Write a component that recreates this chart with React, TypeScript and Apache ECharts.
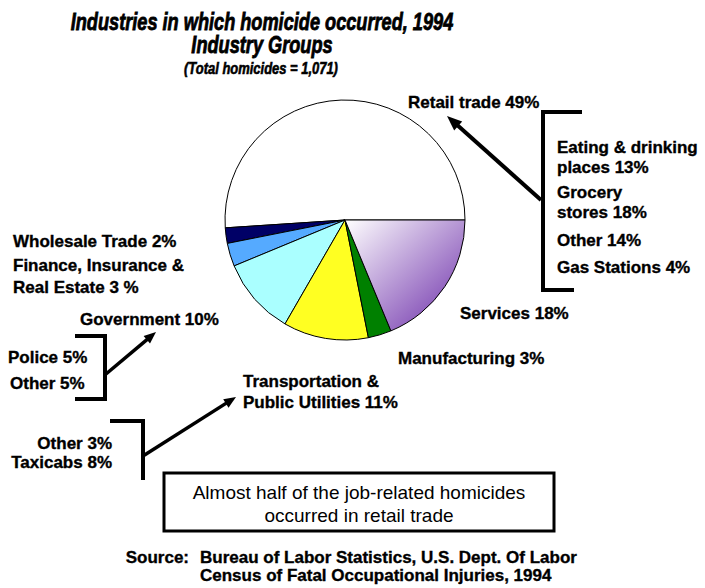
import React, { useEffect, useRef } from "react";
import * as echarts from "echarts";

// ---- Data ----
const industries = [
  "Retail trade",
  "Wholesale Trade",
  "Finance, Insurance & Real Estate",
  "Government",
  "Transportation & Public Utilities",
  "Manufacturing",
  "Services",
];
const shares = [49, 2, 3, 10, 11, 3, 18];
const sliceColors = ["#ffffff", "#000066", "#55aaff", "#aaffff", "#ffff22", "#008000", "services"];

const titleLines = ["Industries in which homicide occurred, 1994", "Industry Groups", "(Total homicides = 1,071)"];
const retailLabel = "Retail trade 49%";
const retailParts = ["Eating & drinking", "places 13%", "Grocery", "stores 18%", "Other 14%", "Gas Stations 4%"];
const leftLabels = ["Wholesale Trade 2%", "Finance, Insurance &", "Real Estate 3 %"];
const governmentLabel = "Government 10%";
const governmentParts = ["Police 5%", "Other 5%"];
const transportLabel = ["Transportation &", "Public Utilities 11%"];
const transportParts = ["Other 3%", "Taxicabs 8%"];
const servicesLabel = "Services 18%";
const manufacturingLabel = "Manufacturing 3%";
const boxLines = ["Almost half of the job-related homicides", "occurred in retail trade"];
const sourceLines = ["Bureau of Labor Statistics, U.S. Dept. Of Labor", "Census of Fatal Occupational Injuries, 1994"];

const BOLD = 'bold 17px "Liberation Sans", Arial, sans-serif';

function txt(text: string, x: number, y: number, align = "left", font = BOLD, extra: any = {}, strokeW = 0.35) {
  const style: any = { text, font, fill: "#000", align, verticalAlign: "middle" };
  if (strokeW > 0) {
    style.stroke = "#000";
    style.lineWidth = strokeW;
  }
  return { type: "text", x, y, ...extra, style };
}

function seg(x1: number, y1: number, x2: number, y2: number, w = 4) {
  return {
    type: "line",
    shape: { x1, y1, x2, y2 },
    style: { stroke: "#000", lineWidth: w, lineCap: "butt" },
  };
}

function arrow(x1: number, y1: number, x2: number, y2: number, w: number, hl: number, hw: number) {
  const dx = x2 - x1;
  const dy = y2 - y1;
  const len = Math.sqrt(dx * dx + dy * dy);
  const ux = dx / len;
  const uy = dy / len;
  const bx = x2 - ux * hl;
  const by = y2 - uy * hl;
  const nx = -uy;
  const ny = ux;
  return [
    seg(x1, y1, bx + ux * 1, by + uy * 1, w),
    {
      type: "polygon",
      shape: {
        points: [
          [x2, y2],
          [bx + (nx * hw) / 2, by + (ny * hw) / 2],
          [bx - (nx * hw) / 2, by - (ny * hw) / 2],
        ],
      },
      style: { fill: "#000" },
    },
  ];
}

export default function App() {
  const ref = useRef<HTMLDivElement>(null);

  useEffect(() => {
    if (!ref.current) return;
    const chart = echarts.init(ref.current, null, { renderer: "svg" });

    const servicesGradient = new echarts.graphic.LinearGradient(0, 0, 1, 1, [
      { offset: 0, color: "#ffffff" },
      { offset: 1, color: "#6a2aa8" },
    ]);

    const data = industries.map((name, i) => ({
      name,
      value: shares[i],
      itemStyle: { color: sliceColors[i] === "services" ? servicesGradient : sliceColors[i] },
    }));

    const graphics: any[] = [];
    const TITLE = 'italic bold 23px "Liberation Sans", Arial, sans-serif';
    // Title
    graphics.push(txt(titleLines[0], 262, 22, "center", TITLE, { scaleX: 0.79 }, 0.8));
    graphics.push(txt(titleLines[1], 262, 45, "center", TITLE, { scaleX: 0.79 }, 0.8));
    graphics.push(txt(titleLines[2], 261, 69, "center", 'italic bold 16px "Liberation Sans", Arial, sans-serif', { scaleX: 0.81 }, 0.6));

    // Retail
    graphics.push(txt(retailLabel, 408, 102));
    const rightY = [147, 167, 192, 212, 240, 267];
    retailParts.forEach((t, i) => graphics.push(txt(t, 557, rightY[i])));
    graphics.push(seg(582, 112, 541, 112));
    graphics.push(seg(543, 110, 543, 292));
    graphics.push(seg(541, 290, 574, 290));
    graphics.push(...arrow(541, 200, 447, 116, 4, 15, 12));

    // Left side
    const leftY = [241, 265, 287];
    leftLabels.forEach((t, i) => graphics.push(txt(t, 13, leftY[i])));
    graphics.push(txt(governmentLabel, 80, 319));
    graphics.push(txt(governmentParts[0], 8, 357));
    graphics.push(txt(governmentParts[1], 10, 383));
    graphics.push(seg(75, 336, 107, 336));
    graphics.push(seg(105, 334, 105, 401));
    graphics.push(seg(75, 399, 107, 399));
    graphics.push(...arrow(106, 374, 156, 332, 3.5, 12, 10));

    // Transportation
    graphics.push(txt(transportLabel[0], 243, 381));
    graphics.push(txt(transportLabel[1], 243, 402));
    graphics.push(txt(transportParts[0], 112, 443, "right"));
    graphics.push(txt(transportParts[1], 112, 462, "right"));
    graphics.push(seg(110, 421, 145, 421));
    graphics.push(seg(143, 419, 143, 480));
    graphics.push(...arrow(143, 456, 236, 397, 3.5, 12, 10));

    // Services / Manufacturing
    graphics.push(txt(servicesLabel, 460, 313));
    graphics.push(txt(manufacturingLabel, 398, 358));

    // Box
    graphics.push({
      type: "rect",
      shape: { x: 164, y: 473, width: 390, height: 58 },
      style: { fill: "#fff", stroke: "#000", lineWidth: 3 },
    });
    graphics.push(txt(boxLines[0], 359, 492, "center", '19px "Liberation Sans", Arial, sans-serif', {}, 0));
    graphics.push(txt(boxLines[1], 359, 515, "center", '19px "Liberation Sans", Arial, sans-serif', {}, 0));

    // Source
    graphics.push(txt("Source:", 189, 557, "right"));
    graphics.push(txt(sourceLines[0], 200, 557));
    graphics.push(txt(sourceLines[1], 200, 575));

    chart.setOption({
      animation: false,
      backgroundColor: "#ffffff",
      series: [
        {
          type: "pie",
          center: [345, 220],
          radius: 120,
          startAngle: 0,
          clockwise: false,
          avoidLabelOverlap: false,
          label: { show: false },
          labelLine: { show: false },
          emphasis: { disabled: true },
          itemStyle: { borderColor: "#000", borderWidth: 1 },
          data,
        },
      ],
      graphic: { elements: graphics },
    });

    return () => chart.dispose();
  }, []);

  return (
    <div
      ref={ref}
      style={{ position: "fixed", left: 0, top: 0, width: 705, height: 588, background: "#fff" }}
    />
  );
}
